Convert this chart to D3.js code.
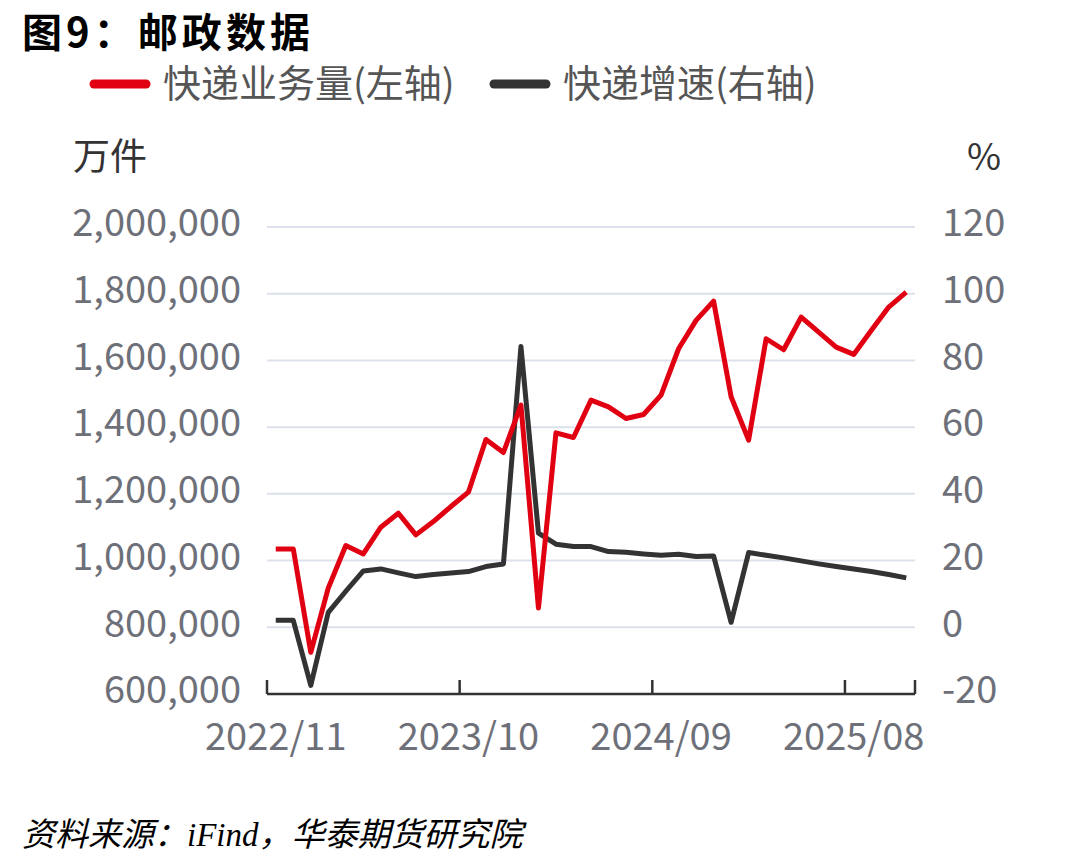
<!DOCTYPE html>
<html>
<head>
<meta charset="utf-8">
<script src="https://cdn.jsdelivr.net/npm/d3@7"></script>
<style>
  body { margin: 0; background: #fff; }
  svg { display: block; font-family: "Noto Sans CJK SC", "Noto Sans", sans-serif; }
</style>
</head>
<body>
<svg id="chart" width="1078" height="866"></svg>
<script>
// months on the category axis
var months = ["2022/11","2022/12","2023/01","2023/02","2023/03","2023/04","2023/05","2023/06","2023/07","2023/08",
  "2023/09","2023/10","2023/11","2023/12","2024/01","2024/02","2024/03","2024/04","2024/05","2024/06",
  "2024/07","2024/08","2024/09","2024/10","2024/11","2024/12","2025/01","2025/02","2025/03","2025/04",
  "2025/05","2025/06","2025/07","2025/08","2025/09","2025/10","2025/11"];

// 快递业务量, 万件 (left axis)
var volume = [1035000,1035000,725000,918000,1045000,1020000,1100000,1142000,1077000,1117000,
  1162000,1205000,1363000,1324000,1466000,858000,1383000,1369000,1481000,1461000,
  1426000,1438000,1496000,1635000,1720000,1778000,1491000,1361000,1665000,1632000,
  1730000,1685000,1640000,1618000,1690000,1760000,1805000];

// 快递增速, % (right axis)
var growth = [2.1,2.1,-17.4,4.5,10.8,16.9,17.5,16.3,15.2,15.8,
  16.3,16.7,18.2,19.0,84.2,28.2,24.9,24.2,24.2,22.7,
  22.5,22.0,21.6,21.9,21.2,21.4,1.5,22.4,21.6,20.8,
  19.9,19.0,18.2,17.5,16.7,15.8,14.8];

var leftTicks = [600000,800000,1000000,1200000,1400000,1600000,1800000,2000000];
var rightTicks = [-20,0,20,40,60,80,100,120];
var labelMonths = ["2022/11","2023/10","2024/09","2025/08"];

var svg = d3.select("#chart");

var x = d3.scaleBand().domain(months).range([267, 915]);
var yL = d3.scaleLinear().domain([600000, 2000000]).range([694, 227]);
var yR = d3.scaleLinear().domain([-20, 120]).range([694, 227]);
var bw = x.bandwidth();

var grey = "#6e7079";

// title
svg.append("text")
  .attr("x", 22).attr("y", 47)
  .attr("font-size", 40).attr("font-weight", "bold").attr("fill", "#000")
  .attr("textLength", 288).attr("lengthAdjust", "spacing")
  .text("图9：邮政数据");

// legend
var legend = [
  {name: "快递业务量(左轴)", color: "#e00012", x: 90},
  {name: "快递增速(右轴)", color: "#333333", x: 490}
];
legend.forEach(function(l) {
  svg.append("line")
    .attr("x1", l.x + 4).attr("x2", l.x + 56)
    .attr("y1", 84).attr("y2", 84)
    .attr("stroke", l.color).attr("stroke-width", 9)
    .attr("stroke-linecap", "round");
  svg.append("text")
    .attr("x", l.x + 73).attr("y", 84)
    .attr("dy", "0.35em")
    .attr("font-size", 38).attr("fill", "#555")
    .text(l.name);
});

// axis units
svg.append("text").attr("x", 73).attr("y", 157).attr("dy", "0.35em")
  .attr("font-size", 37).attr("fill", "#333").text("万件");
svg.append("text").attr("x", 1001).attr("y", 157).attr("dy", "0.35em")
  .attr("text-anchor", "end")
  .attr("font-size", 37).attr("fill", "#333").text("%");

// grid lines
svg.selectAll(".grid")
  .data(leftTicks.slice(1)).enter()
  .append("line")
  .attr("x1", 267).attr("x2", 915)
  .attr("y1", function(d) { return yL(d); })
  .attr("y2", function(d) { return yL(d); })
  .attr("stroke", "#dde1ec").attr("stroke-width", 2);

// left tick labels
svg.selectAll(".ltick")
  .data(leftTicks).enter()
  .append("text")
  .attr("x", 241)
  .attr("y", function(d) { return yL(d) - 4; })
  .attr("dy", "0.35em")
  .attr("text-anchor", "end")
  .attr("font-size", 38).attr("fill", grey)
  .text(d3.format(","));

// right tick labels
svg.selectAll(".rtick")
  .data(rightTicks).enter()
  .append("text")
  .attr("x", 942)
  .attr("y", function(d) { return yR(d) - 4; })
  .attr("dy", "0.35em")
  .attr("font-size", 38).attr("fill", grey)
  .text(function(d) { return d; });

// x axis
svg.append("line")
  .attr("x1", 267).attr("x2", 915)
  .attr("y1", 694).attr("y2", 694)
  .attr("stroke", "#333").attr("stroke-width", 2.5);

var tickX = labelMonths.map(function(m) { return x(m); }).concat([915]);
svg.selectAll(".xtick")
  .data(tickX).enter()
  .append("line")
  .attr("x1", function(d) { return d; })
  .attr("x2", function(d) { return d; })
  .attr("y1", 680).attr("y2", 694)
  .attr("stroke", "#333").attr("stroke-width", 2.5);

svg.selectAll(".xlabel")
  .data(labelMonths).enter()
  .append("text")
  .attr("x", function(d) { return x(d) + bw / 2; })
  .attr("y", 737)
  .attr("dy", "0.35em")
  .attr("text-anchor", "middle")
  .attr("font-size", 38).attr("fill", grey)
  .text(function(d) { return d; });

// lines
var lineL = d3.line()
  .x(function(d, i) { return x(months[i]) + bw / 2; })
  .y(function(d) { return yL(d); });
var lineR = d3.line()
  .x(function(d, i) { return x(months[i]) + bw / 2; })
  .y(function(d) { return yR(d); });

svg.append("path")
  .attr("d", lineR(growth))
  .attr("fill", "none").attr("stroke", "#333333")
  .attr("stroke-width", 5).attr("stroke-linejoin", "round");

svg.append("path")
  .attr("d", lineL(volume))
  .attr("fill", "none").attr("stroke", "#e00012")
  .attr("stroke-width", 5).attr("stroke-linejoin", "round");

// source
var src = svg.append("text")
  .attr("x", 22).attr("y", 846)
  .attr("font-size", 33).attr("font-style", "italic").attr("fill", "#000");
src.append("tspan").text("资料来源：");
src.append("tspan").attr("font-family", "Liberation Serif, serif").text("iFind");
src.append("tspan").text("，华泰期货研究院");
</script>
</body>
</html>
